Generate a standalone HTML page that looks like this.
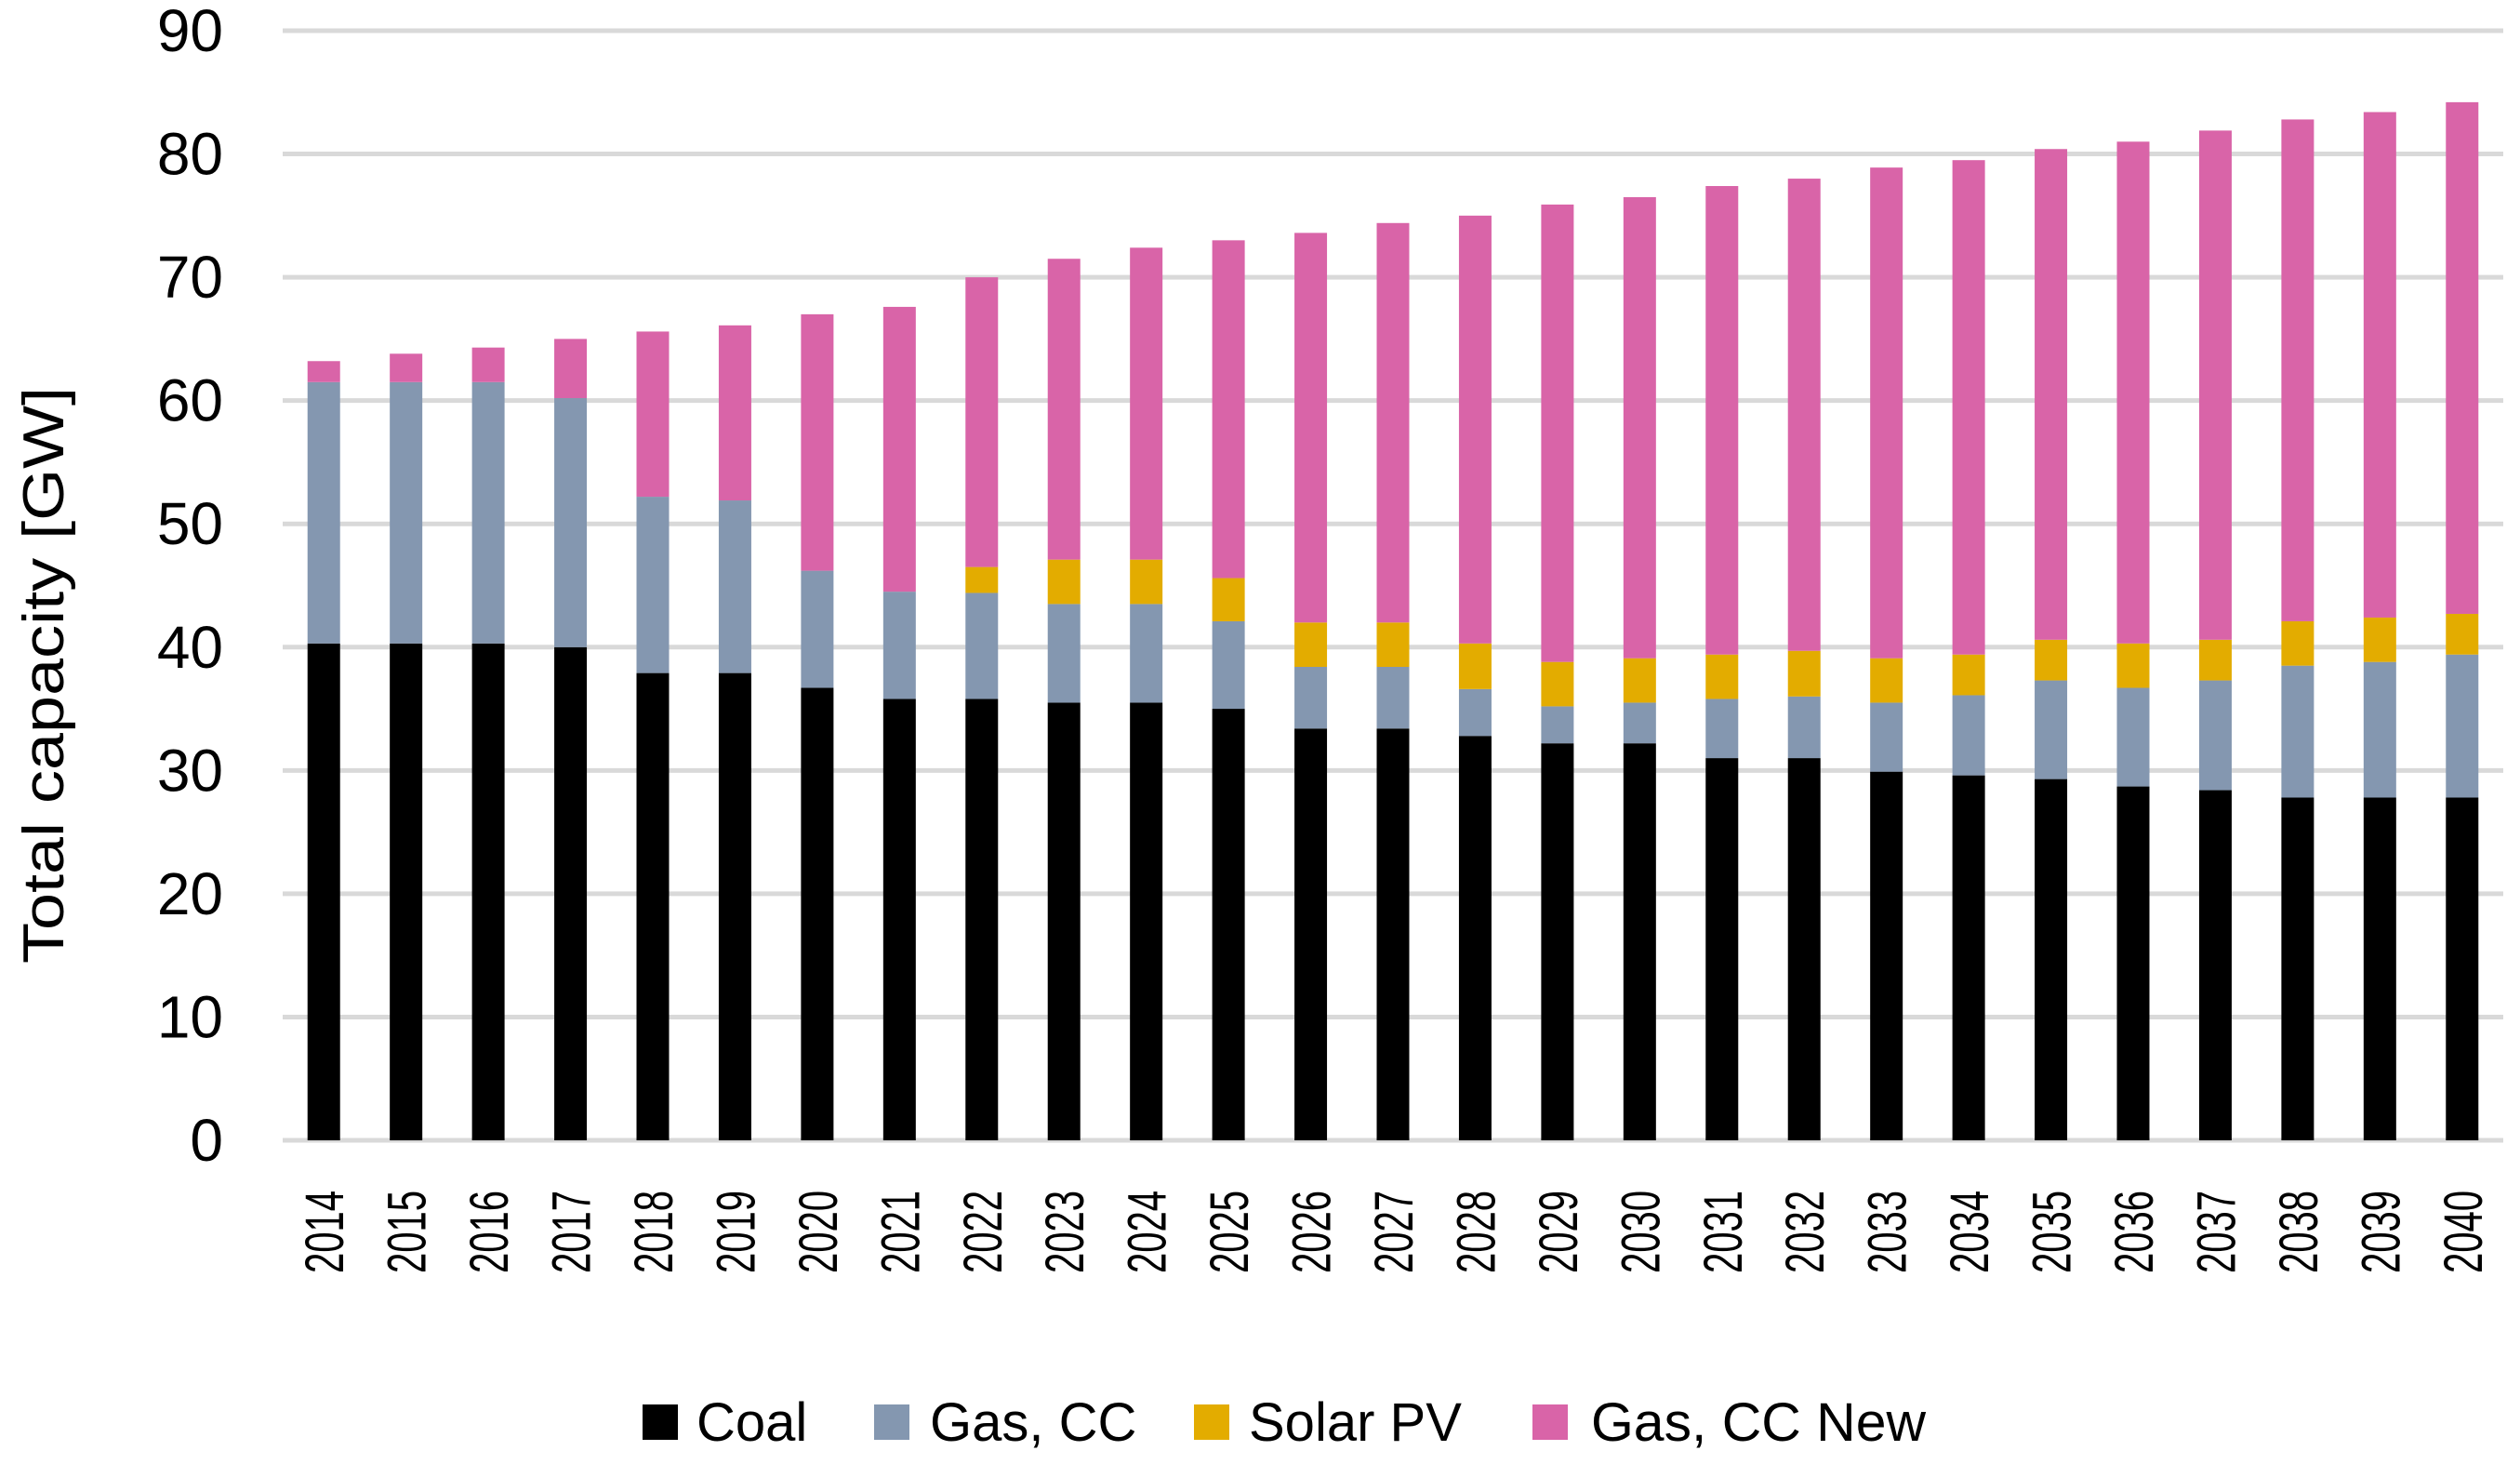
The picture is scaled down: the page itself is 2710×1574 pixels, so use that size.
<!DOCTYPE html>
<html><head><meta charset="utf-8"><style>
html,body{margin:0;padding:0;background:#fff;}
svg{display:block;font-family:"Liberation Sans",sans-serif;}
</style></head><body>
<svg id="chart" width="2710" height="1574" viewBox="0 0 2710 1574" xmlns="http://www.w3.org/2000/svg">
<g id="grid"></g>
<g id="yticks"></g>
<g id="bars"></g>
<g id="xticks"></g>
<text x="0" y="0" transform="translate(68,726) rotate(-90)" text-anchor="middle" font-size="62" textLength="620" lengthAdjust="spacingAndGlyphs" fill="#000">Total capacity [GW]</text>
<g>
<g><rect x="691" y="1510" width="38" height="38" fill="#000"/><text x="749" y="1549" font-size="58">Coal</text></g>
<g><rect x="940" y="1510" width="38" height="38" fill="#8497b0"/><text x="1000" y="1549" font-size="58">Gas, CC</text></g>
<g><rect x="1284" y="1510" width="38" height="38" fill="#e3ac00"/><text x="1343" y="1549" font-size="58">Solar PV</text></g>
<g><rect x="1648" y="1510" width="38" height="38" fill="#d964a8"/><text x="1711" y="1549" font-size="58" textLength="360" lengthAdjust="spacingAndGlyphs">Gas, CC New</text></g>
</g>
</svg>
<script>
const years = [2014,2015,2016,2017,2018,2019,2020,2021,2022,2023,2024,2025,2026,2027,2028,2029,2030,2031,2032,2033,2034,2035,2036,2037,2038,2039,2040];
const coal = [40.3,40.3,40.3,40,37.9,37.9,36.7,35.8,35.8,35.5,35.5,35,33.4,33.4,32.8,32.2,32.2,31,31,29.9,29.6,29.3,28.7,28.4,27.8,27.8,27.8];
const gasCC = [21.2,21.2,21.2,20.2,14.3,14,9.5,8.7,8.6,8,8,7.1,5,5,3.8,3,3.3,4.8,5,5.6,6.5,8,8,8.9,10.7,11,11.6];
const solarPV = [0,0,0,0,0,0,0,0,2.1,3.6,3.6,3.5,3.6,3.6,3.7,3.6,3.6,3.6,3.7,3.6,3.3,3.3,3.6,3.3,3.6,3.6,3.3];
const gasCCNew = [1.7,2.3,2.8,4.8,13.4,14.2,20.8,23.1,23.5,24.4,25.3,27.4,31.6,32.4,34.7,37.1,37.4,38,38.3,39.8,40.1,39.8,40.7,41.3,40.7,41,41.5];
const yTicks = [0,10,20,30,40,50,60,70,80,90];

const NS="http://www.w3.org/2000/svg";
const x0=304,x1=2692,y0=1226,yTop=33,yMax=90;
const band=(x1-x0)/years.length, bw=35;
const yS=v=>y0-(v/yMax)*(y0-yTop);
const xC=i=>x0+band*(i+0.5);
function mk(t,a){const e=document.createElementNS(NS,t);for(const k in a)e.setAttribute(k,a[k]);return e;}
const grid=document.getElementById('grid'),yt=document.getElementById('yticks'),bars=document.getElementById('bars'),xt=document.getElementById('xticks');
yTicks.forEach(v=>{
  const l=mk('line',{x1:x0,x2:x1,y1:yS(v),y2:yS(v),stroke:'#d9d9d9','stroke-width':5});
  
  
  grid.appendChild(l);
  const t=mk('text',{x:240,y:yS(v)+22,'text-anchor':'end','font-size':64,fill:'#000'});
  t.textContent=v;
  
  
  yt.appendChild(t);
});
const series=[['coal',coal,'#000'],['gas-cc',gasCC,'#8497b0'],['solar-pv',solarPV,'#e3ac00'],['gas-cc-new',gasCCNew,'#d964a8']];
years.forEach((yr,i)=>{
  let base=0;
  series.forEach(([n,arr,c])=>{
    const v=arr[i]; if(v<=0)return;
    const r=mk('rect',{x:xC(i)-bw/2,y:yS(base+v),width:bw,height:yS(base)-yS(base+v),fill:c});
    
    
    bars.appendChild(r);
    base+=v;
  });
  const t=mk('text',{x:0,y:0,transform:`translate(${xC(i)+21},1280) rotate(-90)`,'text-anchor':'end','font-size':58,textLength:89,lengthAdjust:'spacingAndGlyphs',fill:'#000'});
  t.textContent=yr;
  
  
  xt.appendChild(t);
});
</script>
</body></html>
